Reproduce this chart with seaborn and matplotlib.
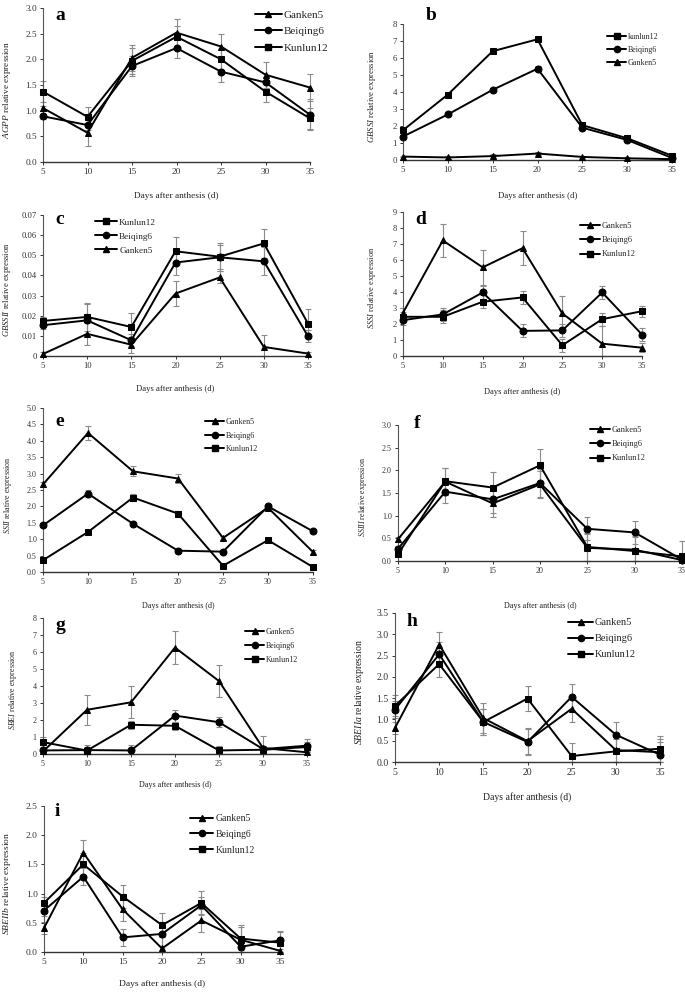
import numpy as np
import pandas as pd
import matplotlib
matplotlib.use("Agg")
import matplotlib.pyplot as plt
import seaborn as sns
from matplotlib.lines import Line2D

sns.set_theme(style="ticks")
plt.rcParams['font.family'] = ['Liberation Serif', 'DejaVu Serif']
plt.rcParams['mathtext.fontset'] = 'custom'
plt.rcParams['mathtext.it'] = 'Liberation Serif:italic'
plt.rcParams['mathtext.rm'] = 'Liberation Serif'

days = [5, 10, 15, 20, 25, 30, 35]
varieties = ["Ganken5", "Beiqing6", "Kunlun12"]

# ---- panel values (Ganken5, Beiqing6, Kunlun12) ----
a_gk = [1.05, 0.57, 2.03, 2.52, 2.25, 1.70, 1.45]
a_bq = [0.89, 0.72, 1.87, 2.22, 1.76, 1.55, 0.92]
a_kl = [1.37, 0.88, 1.97, 2.44, 2.00, 1.37, 0.85]
a_gk_e = [0.05, 0.25, 0.25, 0.27, 0.25, 0.25, 0.27]
a_bq_e = [0.05, 0.10, 0.20, 0.20, 0.20, 0.10, 0.30]
a_kl_e = [0.20, 0.20, 0.25, 0.20, 0.20, 0.20, 0.20]

b_gk = [0.20, 0.15, 0.23, 0.38, 0.18, 0.10, 0.05]
b_bq = [1.38, 2.68, 4.13, 5.37, 1.90, 1.18, 0.12]
b_kl = [1.75, 3.85, 6.40, 7.10, 2.05, 1.28, 0.25]
b_gk_e = [0.05, 0.10, 0.10, 0.10, 0.05, 0.10, 0.05]
b_bq_e = [0.10, 0.10, 0.12, 0.15, 0.10, 0.10, 0.05]
b_kl_e = [0.10, 0.10, 0.10, 0.10, 0.10, 0.10, 0.05]

c_gk = [0.0010, 0.0110, 0.0056, 0.0310, 0.0390, 0.0045, 0.0012]
c_bq = [0.0153, 0.0177, 0.0078, 0.0464, 0.0490, 0.0470, 0.0098]
c_kl = [0.0174, 0.0194, 0.0144, 0.0520, 0.0493, 0.0559, 0.0161]
c_gk_e = [0.001, 0.0055, 0.004, 0.006, 0.003, 0.006, 0.001]
c_bq_e = [0.002, 0.008, 0.003, 0.006, 0.006, 0.007, 0.003]
c_kl_e = [0.002, 0.007, 0.007, 0.007, 0.007, 0.007, 0.007]

d_gk = [2.70, 7.22, 5.54, 6.74, 2.66, 0.77, 0.52]
d_bq = [2.24, 2.60, 3.97, 1.57, 1.60, 3.97, 1.34]
d_kl = [2.45, 2.45, 3.39, 3.66, 0.67, 2.30, 2.80]
d_gk_e = [0.30, 1.05, 1.10, 1.05, 1.10, 1.10, 0.30]
d_bq_e = [0.30, 0.40, 0.40, 0.40, 0.40, 0.40, 0.40]
d_kl_e = [0.30, 0.40, 0.40, 0.40, 0.40, 0.40, 0.35]

e_gk = [2.67, 4.24, 3.07, 2.85, 1.04, 1.96, 0.61]
e_bq = [1.42, 2.39, 1.47, 0.65, 0.62, 2.00, 1.24]
e_kl = [0.36, 1.22, 2.27, 1.78, 0.19, 0.97, 0.15]
e_gk_e = [0.08, 0.22, 0.15, 0.15, 0.05, 0.08, 0.05]
e_bq_e = [0.05, 0.10, 0.05, 0.03, 0.03, 0.08, 0.05]
e_kl_e = [0.05, 0.05, 0.10, 0.08, 0.03, 0.05, 0.03]

f_gk = [0.48, 1.75, 1.27, 1.69, 0.29, 0.25, 0.02]
f_bq = [0.27, 1.53, 1.36, 1.72, 0.71, 0.63, 0.03]
f_kl = [0.15, 1.76, 1.62, 2.11, 0.31, 0.22, 0.10]
f_gk_e = [0.05, 0.30, 0.30, 0.30, 0.30, 0.30, 0.05]
f_bq_e = [0.05, 0.25, 0.30, 0.30, 0.25, 0.25, 0.05]
f_kl_e = [0.05, 0.30, 0.35, 0.35, 0.30, 0.30, 0.35]

g_gk = [0.15, 2.60, 3.04, 6.26, 4.29, 0.35, 0.10]
g_bq = [0.21, 0.23, 0.21, 2.26, 1.87, 0.29, 0.49]
g_kl = [0.70, 0.20, 1.72, 1.66, 0.21, 0.25, 0.41]
g_gk_e = [0.10, 0.90, 0.95, 0.95, 0.95, 0.70, 0.10]
g_bq_e = [0.10, 0.30, 0.30, 0.35, 0.30, 0.20, 0.40]
g_kl_e = [0.30, 0.20, 0.25, 0.25, 0.25, 0.20, 0.30]

h_gk = [0.80, 2.76, 1.03, 0.49, 1.25, 0.28, 0.23]
h_bq = [1.23, 2.53, 0.94, 0.47, 1.53, 0.64, 0.17]
h_kl = [1.32, 2.30, 0.94, 1.49, 0.14, 0.25, 0.31]
h_gk_e = [0.15, 0.30, 0.35, 0.30, 0.30, 0.30, 0.30]
h_bq_e = [0.20, 0.30, 0.30, 0.30, 0.30, 0.30, 0.30]
h_kl_e = [0.25, 0.30, 0.30, 0.30, 0.30, 0.30, 0.30]

i_gk = [0.41, 1.70, 0.73, 0.06, 0.54, 0.21, 0.02]
i_bq = [0.71, 1.29, 0.25, 0.31, 0.80, 0.09, 0.20]
i_kl = [0.84, 1.50, 0.95, 0.46, 0.84, 0.23, 0.16]
i_gk_e = [0.10, 0.22, 0.20, 0.20, 0.20, 0.25, 0.10]
i_bq_e = [0.10, 0.15, 0.15, 0.20, 0.15, 0.10, 0.15]
i_kl_e = [0.10, 0.20, 0.20, 0.20, 0.20, 0.20, 0.20]

genes = ["AGPP", "GBSSI", "GBSSII", "SSSI", "SSII", "SSIII", "SBEI", "SBEIIa", "SBEIIb"]
letters = ["a", "b", "c", "d", "e", "f", "g", "h", "i"]

W, H = 685, 992
fig = plt.figure(figsize=(W / 100, H / 100), dpi=100)

markers = {"Ganken5": "^", "Beiqing6": "o", "Kunlun12": "s"}

# layout per panel (pixels)
panels = [
    dict(v=(a_gk, a_bq, a_kl), e=(a_gk_e, a_bq_e, a_kl_e), box=(43, 310, 162, 8), ymax=3.0, step=0.5, fmt="{:.1f}",
         ylx=8, xly=192, let=(55, 15), leg=(255, 15), order=[0, 1, 2], names=["Ganken5", "Beiqing6", "Kunlun12"],
         sp=0.6, fs=6.7, lfs=8.0),
    dict(v=(b_gk, b_bq, b_kl), e=(b_gk_e, b_bq_e, b_kl_e), box=(403, 672, 160, 24), ymax=8, step=1, fmt="{:.0f}",
         ylx=373, xly=192, let=(426, 15), leg=(607, 38), order=[2, 1, 0], names=["kunlun12", "Beiqing6", "Ganken5"],
         sp=0.6, fs=6.3, lfs=5.8),
    dict(v=(c_gk, c_bq, c_kl), e=(c_gk_e, c_bq_e, c_kl_e), box=(43, 308, 356, 215), ymax=0.07, step=0.01, fmt="c",
         ylx=8, xly=385, let=(55, 220), leg=(95, 223), order=[2, 1, 0], names=["Kunlun12", "Beiqing6", "Ganken5"],
         sp=0.6, fs=6.2, lfs=6.7),
    dict(v=(d_gk, d_bq, d_kl), e=(d_gk_e, d_bq_e, d_kl_e), box=(403, 642, 356, 212), ymax=9, step=1, fmt="{:.0f}",
         ylx=373, xly=388, let=(415, 220), leg=(580, 227), order=[0, 1, 2], names=["Ganken5", "Beiqing6", "Kunlun12"],
         sp=0.75, fs=6.0, lfs=6.0),
    dict(v=(e_gk, e_bq, e_kl), e=(e_gk_e, e_bq_e, e_kl_e), box=(43, 313, 572, 408), ymax=5.0, step=0.5, fmt="{:.1f}",
         ylx=9, xly=602, let=(55, 422), leg=(205, 423), order=[0, 1, 2], names=["Ganken5", "Beiqing6", "Kunlun12"],
         sp=0.7, fs=5.8, lfs=5.8),
    dict(v=(f_gk, f_bq, f_kl), e=(f_gk_e, f_bq_e, f_kl_e), box=(398, 682, 561, 425), ymax=3.0, step=0.5, fmt="{:.1f}",
         ylx=364, xly=602, let=(414, 423), leg=(590, 431), order=[0, 1, 2], names=["Ganken5", "Beiqing6", "Kunlun12"],
         sp=0.75, fs=5.8, lfs=6.0),
    dict(v=(g_gk, g_bq, g_kl), e=(g_gk_e, g_bq_e, g_kl_e), box=(43, 307, 754, 618), ymax=8, step=1, fmt="{:.0f}",
         ylx=14, xly=781, let=(55, 625), leg=(245, 633), order=[0, 1, 2], names=["Ganken5", "Beiqing6", "Kunlun12"],
         sp=0.75, fs=5.8, lfs=5.8),
    dict(v=(h_gk, h_bq, h_kl), e=(h_gk_e, h_bq_e, h_kl_e), box=(395, 660, 762, 613), ymax=3.5, step=0.5, fmt="{:.1f}",
         ylx=361, xly=792, let=(407, 622), leg=(568, 623), order=[0, 1, 2], names=["Ganken5", "Beiqing6", "Kunlun12"],
         sp=0.65, fs=7.0, lfs=7.5),
    dict(v=(i_gk, i_bq, i_kl), e=(i_gk_e, i_bq_e, i_kl_e), box=(44, 280, 952, 806), ymax=2.5, step=0.5, fmt="{:.1f}",
         ylx=8, xly=980, let=(55, 812), leg=(190, 819), order=[0, 1, 2], names=["Ganken5", "Beiqing6", "Kunlun12"],
         sp=0.7, fs=6.8, lfs=7.0),
]

for k, p in enumerate(panels):
    left, right, y0, ytop = p["box"]
    ax = fig.add_axes([left / W, 1 - y0 / H, (right - left) / W, (y0 - ytop) / H])
    rows = []
    for vname, vals in zip(varieties, p["v"]):
        for d, val in zip(days, vals):
            rows.append({"day": d, "value": val, "variety": vname})
    df = pd.DataFrame(rows)
    for vname, vals, errs in zip(varieties, p["v"], p["e"]):
        vals_a = np.asarray(vals)
        errs_a = np.asarray(errs)
        lower = np.minimum(errs_a, vals_a)  # bars stop at the x axis
        ax.errorbar(days, vals, yerr=[lower, errs_a], fmt="none", ecolor="#8a8a8a", elinewidth=0.8,
                    capsize=2.2, capthick=0.8, zorder=1, clip_on=False)
    sns.lineplot(data=df, x="day", y="value", hue="variety", style="variety",
                 palette={v: "black" for v in varieties}, markers=markers, dashes=False,
                 markersize=5, linewidth=1.4, markeredgecolor="black", legend=False, ax=ax,
                 zorder=3)
    for ln in ax.lines:
        ln.set_clip_on(False)
    for coll in ax.collections:
        coll.set_clip_on(False)
    ax.set_xlim(5, 35)
    ax.set_ylim(0, p["ymax"])
    ax.set_xticks(days)
    ax.set_xticklabels([str(d) for d in days])
    yt = np.round(np.arange(0, p["ymax"] + p["step"] / 2, p["step"]), 4)
    ax.set_yticks(yt)
    if p["fmt"] == "c":
        ax.set_yticklabels(["0"] + ["{:.2f}".format(t) for t in yt[1:]])
    else:
        ax.set_yticklabels([p["fmt"].format(t) for t in yt])
    fs = p["fs"]
    ax.tick_params(axis="both", labelsize=fs, length=2.5, width=0.7, pad=2, colors="#333333")
    for s in ["top", "right"]:
        ax.spines[s].set_visible(False)
    ax.spines["left"].set_color("#555555")
    ax.spines["left"].set_linewidth(0.8)
    ax.spines["bottom"].set_color("#333333")
    ax.spines["bottom"].set_linewidth(1.0)
    ax.set_facecolor("none")
    ax.set_xlabel("Days after anthesis (d)", fontsize=fs, color="#222222")
    ax.set_ylabel("$" + genes[k] + "$ relative expression", fontsize=fs, color="#222222")
    wpx = right - left
    hpx = y0 - ytop
    # ylabel x coordinate refers to the right edge of the rotated text
    ax.yaxis.set_label_coords((p["ylx"] + 5 - left) / wpx, 0.47)
    ax.xaxis.set_label_coords(0.5, -(p["xly"] - y0) / hpx)
    # panel letter
    lx, ly = p["let"]
    fig.text(lx / W, 1 - ly / H, letters[k], fontsize=14, fontweight="bold",
             ha="left", va="center", color="black")
    # legend
    handles = [Line2D([], [], color="black", marker=markers[varieties[j]], markersize=4.5,
                      linewidth=1.4) for j in p["order"]]
    gx, gy = p["leg"]
    fig.legend(handles, p["names"], loc="upper left",
               bbox_to_anchor=(gx / W, 1 - (gy - 5) / H), bbox_transform=fig.transFigure,
               frameon=False, fontsize=p["lfs"], handlelength=2.4, handletextpad=0.2,
               labelspacing=p["sp"], borderpad=0, borderaxespad=0)

fig.savefig("out.png", dpi=100, facecolor="white")
